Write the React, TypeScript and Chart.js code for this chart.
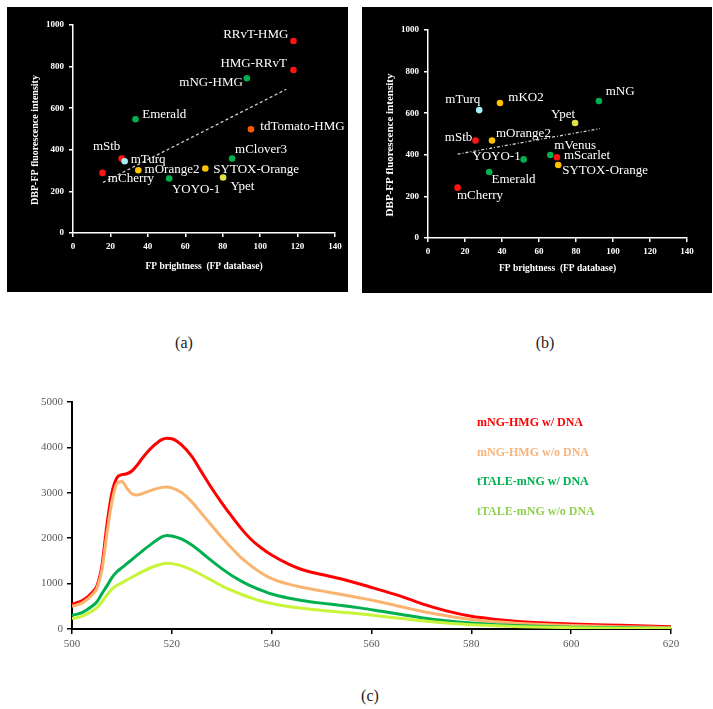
import React, { useEffect, useRef } from "react";
import { Chart, registerables } from "chart.js";
Chart.register(...registerables);

const F = '"Liberation Serif", "DejaVu Serif", serif';

// ---------- Panel (a) ----------
const aNames = ["RRvT-HMG", "HMG-RRvT", "mNG-HMG", "Emerald", "tdTomato-HMG", "mStb", "mTurq", "mOrange2", "SYTOX-Orange", "mCherry", "YOYO-1", "Ypet", "mClover3"];
const aX = [117.8, 117.8, 92.9, 33.4, 95.1, 26, 27.6, 34.9, 70.7, 15.8, 51.4, 80.2, 85];
const aY = [923, 784, 744, 547, 499, 358, 345, 302, 310, 289, 262, 267, 358];
const aColors = ["#ff1414", "#ff1414", "#00b050", "#00b050", "#ff5a00", "#ff1414", "#a8f0f8", "#ffc000", "#ffc000", "#ff1414", "#00b050", "#e0e048", "#00b050"];
const aTrendX = [16, 114];
const aTrendY = [243, 691];

// ---------- Panel (b) ----------
const bNames = ["mTurq", "mKO2", "mNG", "Ypet", "mStb", "mOrange2", "mVenus", "mScarlet", "SYTOX-Orange", "YOYO-1", "Emerald", "mCherry"];
const bX = [27.7, 38.9, 92.4, 79.5, 25.7, 34.6, 66.1, 69.7, 70.4, 51.7, 33.1, 16];
const bY = [615, 649, 659, 553, 469, 469, 399, 388, 351, 378, 317, 242];
const bColors = ["#a8f0f8", "#ffc000", "#00b050", "#e0e048", "#ff1414", "#ffc000", "#00b050", "#ff1414", "#ffc000", "#00b050", "#00b050", "#ff1414"];
const bTrendX = [16, 93];
const bTrendY = [403, 526];

// shared axis ticks for (a) and (b)
const scatterXMin = 0, scatterXMax = 140, scatterXStep = 20;
const scatterYMin = 0, scatterYMax = 1000, scatterYStep = 200;
const scatterXTitle = "FP brightness  (FP database)";
const scatterYTitle = "DBP-FP fluorescence intensity";

// label placement (layout only): [dx, dy, align]
type Place = [number, number, CanvasTextAlign];
const aPlaces: Place[] = [[-5, -6, "right"], [-6.6, -6.7, "right"], [-4, 4, "right"], [6.7, -4.3, "left"], [9.3, -2.7, "left"], [-1.3, -12, "right"], [6, -2, "left"], [6.3, -0.7, "left"], [8, 1.3, "left"], [5.3, 6, "left"], [2.7, 10.7, "left"], [7.3, 8.7, "left"], [3, -8.7, "left"]];
const bPlaces: Place[] = [[1, -11, "right"], [8.3, -5.7, "left"], [6.7, -9.3, "left"], [0, -8, "right"], [-3.3, -2.7, "right"], [4, -6.7, "left"], [4, -9.3, "left"], [7, -1.3, "left"], [4, 6, "left"], [-3, -2.3, "right"], [2.3, 7.3, "left"], [-0.7, 7.7, "left"]];

// ---------- Panel (c) ----------
const wavelengths = [500, 502, 504, 505, 506, 507, 508, 509, 510, 511, 512, 513, 514, 516, 518, 519, 520, 522, 524, 526, 528, 530, 532, 534, 536, 538, 540, 543, 546, 550, 554, 558, 562, 566, 570, 575, 580, 585, 590, 600, 610, 620];
const mngHmgDna = [550, 620, 800, 950, 1400, 2300, 3000, 3330, 3400, 3420, 3480, 3600, 3750, 4000, 4170, 4200, 4190, 4050, 3800, 3450, 3100, 2780, 2480, 2200, 1960, 1780, 1630, 1450, 1310, 1200, 1100, 980, 850, 720, 560, 400, 280, 210, 160, 110, 80, 50];
const mngHmgNoDna = [500, 570, 750, 900, 1300, 2100, 2800, 3200, 3250, 3100, 2980, 2950, 2980, 3060, 3120, 3130, 3110, 3000, 2800, 2540, 2280, 2020, 1780, 1560, 1380, 1230, 1110, 1000, 920, 840, 760, 680, 590, 490, 390, 290, 210, 160, 120, 75, 50, 30];
const tTaleDna = [300, 360, 500, 600, 780, 950, 1130, 1260, 1350, 1440, 1530, 1620, 1710, 1880, 2030, 2060, 2050, 1980, 1850, 1680, 1500, 1330, 1180, 1050, 940, 850, 770, 690, 630, 570, 520, 460, 390, 320, 250, 180, 130, 95, 70, 40, 25, 15];
const tTaleNoDna = [230, 280, 390, 470, 600, 750, 880, 960, 1020, 1080, 1140, 1200, 1260, 1360, 1430, 1450, 1440, 1390, 1300, 1190, 1070, 950, 850, 760, 680, 610, 560, 500, 455, 410, 370, 330, 280, 230, 180, 130, 95, 70, 50, 30, 18, 10];
const seriesNames = ["mNG-HMG w/ DNA", "mNG-HMG w/o DNA", "tTALE-mNG w/ DNA", "tTALE-mNG w/o DNA"];
const lineColors = ["#ff0000", "#fbb470", "#00b050", "#c8f43a"];
const legendColors = ["#ff0000", "#f8b47a", "#00b050", "#92d050"];
const cXMin = 500, cXMax = 620, cXStep = 20;
const cYMin = 0, cYMax = 5000, cYStep = 1000;

const plainTick = (v: any) => String(v);

interface ScatterProps {
  names: string[]; xs: number[]; ys: number[]; colors: string[]; places: Place[];
  trendX: number[]; trendY: number[];
  left: number; top: number; width: number; height: number;
  padTop: number; padRight: number; yAxisW: number; xAxisH: number;
  xTitleDy: number; yTitleDx: number; yTitleDy: number; yTitleSize: number; dash: number[];
}

function ScatterPanel(p: ScatterProps) {
  const ref = useRef<HTMLCanvasElement>(null);
  useEffect(() => {
    const plugin = {
      id: "pointLabels",
      afterDatasetsDraw(chart: any) {
        const ctx = chart.ctx;
        const meta = chart.getDatasetMeta(1);
        ctx.save();
        ctx.fillStyle = "#ffffff";
        ctx.font = `13px ${F}`;
        ctx.textBaseline = "middle";
        meta.data.forEach((el: any, i: number) => {
          const pl = p.places[i];
          ctx.textAlign = pl[2];
          ctx.fillText(p.names[i], el.x + pl[0], el.y + pl[1]);
        });
        const ca = chart.chartArea;
        ctx.textAlign = "center";
        ctx.font = `bold 9.5px ${F}`;
        ctx.fillText(scatterXTitle, (ca.left + ca.right) / 2, ca.bottom + p.xTitleDy);
        ctx.translate(ca.left + p.yTitleDx, (ca.top + ca.bottom) / 2 + p.yTitleDy);
        ctx.rotate(-Math.PI / 2);
        ctx.font = `bold ${p.yTitleSize}px ${F}`;
        ctx.fillText(scatterYTitle, 0, 0);
        ctx.restore();
      },
    };
    const tickFont = { family: F, size: 9, weight: "bold" as const };
    const chart = new Chart(ref.current as HTMLCanvasElement, {
      type: "scatter",
      data: {
        datasets: [
          {
            type: "line" as any,
            data: p.trendX.map((x, i) => ({ x, y: p.trendY[i] })),
            borderColor: "#cfcfcf",
            borderWidth: 1.3,
            borderDash: p.dash,
            pointRadius: 0,
            fill: false,
            showLine: true,
          } as any,
          {
            data: p.xs.map((x, i) => ({ x, y: p.ys[i] })),
            backgroundColor: p.colors,
            pointBackgroundColor: p.colors,
            borderWidth: 0,
            pointRadius: 3.3,
          } as any,
        ],
      },
      options: {
        responsive: false,
        animation: false,
        devicePixelRatio: 1,
        layout: { padding: { left: 0, right: p.padRight, top: p.padTop, bottom: 0 }, autoPadding: false } as any,
        plugins: { legend: { display: false }, tooltip: { enabled: false } },
        scales: {
          x: {
            type: "linear", min: scatterXMin, max: scatterXMax,
            ticks: { stepSize: scatterXStep, color: "#ffffff", font: tickFont, padding: 4, maxRotation: 0, callback: plainTick },
            grid: { drawOnChartArea: false, color: "#ffffff", lineWidth: 1.5, tickLength: 4 },
            border: { color: "#ffffff", width: 1.5 },
            afterFit: (s: any) => { s.height = p.xAxisH; },
          },
          y: {
            type: "linear", min: scatterYMin, max: scatterYMax,
            ticks: { stepSize: scatterYStep, color: "#ffffff", font: tickFont, padding: 5, callback: plainTick },
            grid: { drawOnChartArea: false, color: "#ffffff", lineWidth: 1.5, tickLength: 4 },
            border: { color: "#ffffff", width: 1.5 },
            afterFit: (s: any) => { s.width = p.yAxisW; },
          },
        },
      } as any,
      plugins: [plugin],
    });
    return () => chart.destroy();
  }, []);
  return (
    <canvas
      ref={ref}
      width={p.width}
      height={p.height}
      style={{ position: "absolute", left: p.left, top: p.top, width: p.width, height: p.height, background: "#000" }}
    />
  );
}

function SpectrumPanel() {
  const ref = useRef<HTMLCanvasElement>(null);
  useEffect(() => {
    const series = [mngHmgDna, mngHmgNoDna, tTaleDna, tTaleNoDna];
    const legendPlugin = {
      id: "specLegend",
      afterDraw(chart: any) {
        const ctx = chart.ctx;
        ctx.save();
        ctx.font = `bold 12px ${F}`;
        ctx.textBaseline = "middle";
        ctx.textAlign = "left";
        const ys = [33, 63, 92, 122];
        seriesNames.forEach((n, i) => {
          ctx.fillStyle = legendColors[i];
          ctx.fillText(n, 477, ys[i]);
        });
        ctx.restore();
      },
    };
    const tickFont = { family: F, size: 11 };
    const chart = new Chart(ref.current as HTMLCanvasElement, {
      type: "line",
      data: {
        datasets: series.map((s, k) => ({
          label: seriesNames[k],
          data: wavelengths.map((w, i) => ({ x: w, y: s[i] })),
          borderColor: lineColors[k],
          borderWidth: 3,
          pointRadius: 0,
          fill: false,
          cubicInterpolationMode: "monotone" as const,
          order: 4 - k,
        })),
      },
      options: {
        responsive: false,
        animation: false,
        devicePixelRatio: 1,
        layout: { padding: { left: 0, right: 42, top: 12, bottom: 0 }, autoPadding: false } as any,
        plugins: { legend: { display: false }, tooltip: { enabled: false } },
        scales: {
          x: {
            type: "linear", min: cXMin, max: cXMax,
            ticks: { stepSize: cXStep, color: "#595959", font: tickFont, padding: 4, maxRotation: 0, callback: plainTick },
            grid: { drawOnChartArea: false, color: "#000000", lineWidth: 1.5, tickLength: 5 },
            border: { color: "#000000", width: 2 },
            afterFit: (s: any) => { s.height = 31; },
          },
          y: {
            type: "linear", min: cYMin, max: cYMax,
            ticks: { stepSize: cYStep, color: "#595959", font: tickFont, padding: 4, callback: plainTick },
            grid: { drawOnChartArea: false, color: "#000000", lineWidth: 1.5, tickLength: 5 },
            border: { color: "#000000", width: 2 },
            afterFit: (s: any) => { s.width = 72; },
          },
        },
      } as any,
      plugins: [legendPlugin],
    });
    return () => chart.destroy();
  }, []);
  return (
    <canvas ref={ref} width={713} height={270} style={{ position: "absolute", left: 0, top: 390, width: 713, height: 270 }} />
  );
}

const capStyle = (x: number, y: number): React.CSSProperties => ({
  position: "absolute", left: x, top: y, transform: "translate(-50%, -50%)",
  fontFamily: F, fontSize: 16, color: "#222", whiteSpace: "nowrap",
});

export default function App() {
  return (
    <div style={{ position: "absolute", left: 0, top: 0, width: 713, height: 709, background: "#fff", overflow: "hidden" }}>
      <ScatterPanel
        names={aNames} xs={aX} ys={aY} colors={aColors} places={aPlaces}
        trendX={aTrendX} trendY={aTrendY}
        left={7} top={7} width={341} height={285}
        padTop={18} padRight={13} yAxisW={66} xAxisH={59}
        xTitleDy={34} yTitleDx={-38} yTitleDy={11} yTitleSize={10} dash={[3, 2.5]}
      />
      <ScatterPanel
        names={bNames} xs={bX} ys={bY} colors={bColors} places={bPlaces}
        trendX={bTrendX} trendY={bTrendY}
        left={362} top={7} width={350} height={286}
        padTop={23} padRight={25} yAxisW={66} xAxisH={55}
        xTitleDy={31} yTitleDx={-38} yTitleDy={11} yTitleSize={11} dash={[3, 2, 1, 2]}
      />
      <SpectrumPanel />
      <div style={capStyle(184, 343)}>(a)</div>
      <div style={capStyle(545, 343)}>(b)</div>
      <div style={capStyle(370, 696)}>(c)</div>
    </div>
  );
}
